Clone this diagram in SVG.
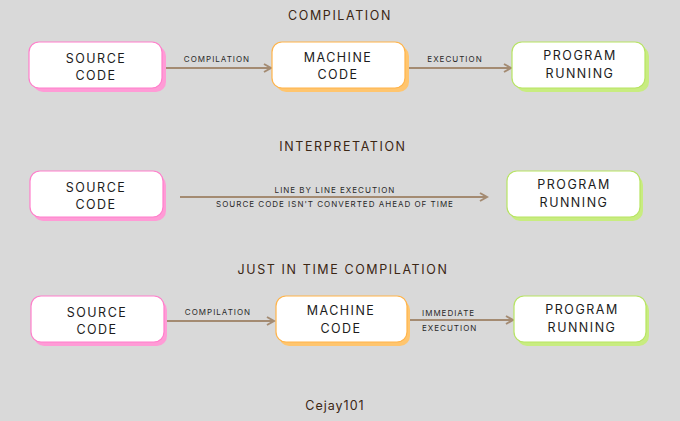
<svg xmlns="http://www.w3.org/2000/svg" width="680" height="421" viewBox="0 0 680 421">
<defs>
<style>
.title{font-family:Inter,"Liberation Sans",sans-serif;font-size:12.5px;letter-spacing:1.6px;fill:#3b2614;text-anchor:middle}
.node{font-family:Inter,"Liberation Sans",sans-serif;font-size:12.5px;letter-spacing:1.5px;fill:#1c1c1c;text-anchor:middle}
.lbl{font-family:Inter,"Liberation Sans",sans-serif;font-size:8px;letter-spacing:1px;fill:#2a2a2a;text-anchor:middle}
.box{fill:#ffffff;stroke-width:1.2}
.pink .sh{fill:#ff9bd6}.pink .box{stroke:#ff7fcb}
.orange .sh{fill:#ffc56e}.orange .box{stroke:#ffb44a}
.green .sh{fill:#c8ec80}.green .box{stroke:#b7e463}
.conn{stroke:#a48b72;stroke-width:2;fill:none;marker-end:url(#ah)}
</style>
<marker id="ah" viewBox="0 0 10 10" refX="8" refY="5" markerWidth="5" markerHeight="5" orient="auto" markerUnits="strokeWidth">
<path d="M1,1 L8,5 L1,9" fill="none" stroke="#a48b72" stroke-width="2"/>
</marker>
</defs>
<rect width="680" height="421" fill="#d9d9d9"/>
<text class="title" x="340" y="20">COMPILATION</text>
<text class="title" x="343" y="151">INTERPRETATION</text>
<text class="title" x="343" y="274">JUST IN TIME COMPILATION</text>
<text class="title" x="335" y="410" style="letter-spacing:1px">Cejay101</text>

<g id="connectors">
<path class="conn" d="M162,68 H271"/>
<path class="conn" d="M406,68 H511"/>
<path class="conn" d="M180,197 H487"/>
<path class="conn" d="M163,321 H274"/>
<path class="conn" d="M407,320 H513"/>
<text class="lbl" x="217" y="62">COMPILATION</text>
<text class="lbl" x="455" y="62">EXECUTION</text>
<text class="lbl" x="335" y="193">LINE BY LINE EXECUTION</text>
<text class="lbl" x="335" y="207">SOURCE CODE ISN'T CONVERTED AHEAD OF TIME</text>
<text class="lbl" x="218" y="315">COMPILATION</text>
<text class="lbl" x="422" y="316" style="text-anchor:start">IMMEDIATE</text>
<text class="lbl" x="422" y="331" style="text-anchor:start">EXECUTION</text>
</g>

<g id="c-source" class="pink">
<rect class="sh" x="33" y="46" width="133" height="46" rx="10"/>
<rect class="box" x="29" y="42" width="133" height="46" rx="10"/>
<text class="node" x="96" y="63">SOURCE</text>
<text class="node" x="96" y="80">CODE</text>
</g>
<g id="c-machine" class="orange">
<rect class="sh" x="276" y="46" width="133" height="46" rx="10"/>
<rect class="box" x="272" y="42" width="133" height="46" rx="10"/>
<text class="node" x="338" y="62">MACHINE</text>
<text class="node" x="338" y="79">CODE</text>
</g>
<g id="c-running" class="green">
<rect class="sh" x="516" y="46" width="133" height="46" rx="10"/>
<rect class="box" x="512" y="42" width="133" height="46" rx="10"/>
<text class="node" x="580" y="60">PROGRAM</text>
<text class="node" x="580" y="78">RUNNING</text>
</g>

<g id="i-source" class="pink">
<rect class="sh" x="33" y="175" width="133" height="46" rx="10"/>
<rect class="box" x="30" y="171" width="133" height="46" rx="10"/>
<text class="node" x="96" y="192">SOURCE</text>
<text class="node" x="96" y="209">CODE</text>
</g>
<g id="i-running" class="green">
<rect class="sh" x="510" y="175" width="133" height="46" rx="10"/>
<rect class="box" x="507" y="171" width="133" height="46" rx="10"/>
<text class="node" x="574" y="189">PROGRAM</text>
<text class="node" x="574" y="207">RUNNING</text>
</g>

<g id="j-source" class="pink">
<rect class="sh" x="34" y="300" width="133" height="46" rx="10"/>
<rect class="box" x="31" y="296" width="133" height="46" rx="10"/>
<text class="node" x="97" y="317">SOURCE</text>
<text class="node" x="97" y="334">CODE</text>
</g>
<g id="j-machine" class="orange">
<rect class="sh" x="279" y="300" width="131" height="46" rx="10"/>
<rect class="box" x="276" y="296" width="131" height="46" rx="10"/>
<text class="node" x="341" y="315">MACHINE</text>
<text class="node" x="341" y="333">CODE</text>
</g>
<g id="j-running" class="green">
<rect class="sh" x="517" y="300" width="132" height="46" rx="10"/>
<rect class="box" x="514" y="296" width="132" height="46" rx="10"/>
<text class="node" x="582" y="314">PROGRAM</text>
<text class="node" x="582" y="332">RUNNING</text>
</g>
</svg>
